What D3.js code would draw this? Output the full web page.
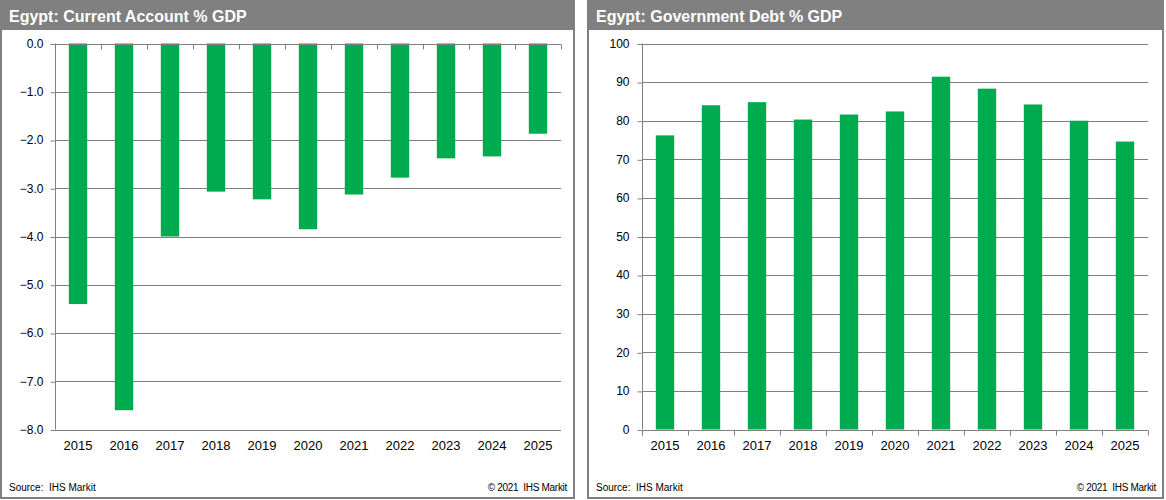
<!DOCTYPE html>
<html><head><meta charset="utf-8">
<script src="https://cdn.jsdelivr.net/npm/d3@7"></script>
<style>body{margin:0;background:#fff}svg{display:block}text{font-family:"Liberation Sans",Arial,sans-serif}</style>
</head><body>
<svg id="c" width="1166" height="500"></svg>
<script>
const years = ["2015","2016","2017","2018","2019","2020","2021","2022","2023","2024","2025"];
const currentAccount = [-5.4,-7.6,-4.0,-3.07,-3.23,-3.85,-3.13,-2.78,-2.38,-2.34,-1.87];
const govDebt = [76.2,84.0,84.8,80.3,81.6,82.4,91.4,88.3,84.2,80.0,74.6];
const caTicks = [0,-1,-2,-3,-4,-5,-6,-7,-8];
const debtTicks = [0,10,20,30,40,50,60,70,80,90,100];
const titles = ["Egypt: Current Account % GDP","Egypt: Government Debt % GDP"];
const source = "Source:  IHS Markit";
const copyright = "© 2021  IHS Markit";

const svg = d3.select("#c");
const green = "#00aa4f", grey = "#808080";

function panel(px, pw, rm, title, values, ticks, domain, fmt, pad){
  const g = svg.append("g").attr("transform",`translate(${px},0)`);
  g.append("rect").attr("x",1).attr("y",1).attr("width",pw-2).attr("height",497)
    .attr("fill","#fff").attr("stroke",grey).attr("stroke-width",2);
  g.append("rect").attr("x",0).attr("y",0).attr("width",pw).attr("height",30).attr("fill",grey);
  g.append("text").attr("x",9).attr("y",21.5).attr("fill","#fff").attr("font-weight","bold")
    .attr("font-size",16).text(title);
  const left = 55, right = pw - rm, top = 43.5, bottom = 429.5;
  const x = d3.scaleBand().domain(years).range([left,right]).paddingInner(0.6).paddingOuter(0.3);
  const y = d3.scaleLinear().domain(domain).range([bottom, top]);
  g.append("g").selectAll("line").data(ticks).join("line")
    .attr("x1",left).attr("x2",right).attr("y1",d=>Math.round(y(d))+0.5).attr("y2",d=>Math.round(y(d))+0.5)
    .attr("stroke",grey).attr("stroke-width",1);
  g.append("g").selectAll("rect").data(values).join("rect")
    .attr("x",(d,i)=>x(years[i])).attr("width",x.bandwidth())
    .attr("y",d=>Math.min(y(0),y(d))).attr("height",d=>Math.abs(y(d)-y(0)))
    .attr("fill",green);
  const ya = d3.axisLeft(y).tickValues(ticks).tickFormat(fmt).tickSize(5).tickPadding(pad);
  const yg = g.append("g").attr("transform",`translate(${left+0.5},0)`).call(ya);
  yg.selectAll(".domain").attr("stroke",grey).attr("d",`M0,${top}V${bottom}`);
  yg.selectAll(".tick line").attr("stroke",grey).attr("transform","translate(0,0.5)");
  yg.selectAll("text").attr("font-size",12).attr("fill","#000").attr("font-family","Liberation Sans, Arial");
  const zy = Math.round(y(0))+0.5;
  g.append("line").attr("x1",left).attr("x2",right).attr("y1",zy).attr("y2",zy).attr("stroke",grey);
  const bounds = d3.range(years.length+1).map(i=>left + i*(right-left)/years.length);
  g.append("g").selectAll("line").data(bounds).join("line")
    .attr("x1",d=>Math.round(d)+0.5).attr("x2",d=>Math.round(d)+0.5)
    .attr("y1",zy).attr("y2",zy+5).attr("stroke",grey);
  g.append("g").selectAll("text").data(years).join("text")
    .attr("x",d=>x(d)+x.bandwidth()/2).attr("y",450).attr("text-anchor","middle")
    .attr("font-size",13).attr("fill","#000").text(d=>d);
  g.append("text").attr("x",9).attr("y",491).attr("font-size",10).attr("fill","#000")
    .style("white-space","pre").text(source);
  g.append("text").attr("x",pw-8).attr("y",491).attr("text-anchor","end").attr("font-size",10)
    .attr("fill","#000").attr("letter-spacing",-0.3).style("white-space","pre").text(copyright);
}
panel(0, 575, 14, titles[0], currentAccount, caTicks, [-8,0], d3.format(".1f"), 7);
panel(587, 577, 16, titles[1], govDebt, debtTicks, [0,100], d3.format("d"), 8);
</script>
</body></html>
